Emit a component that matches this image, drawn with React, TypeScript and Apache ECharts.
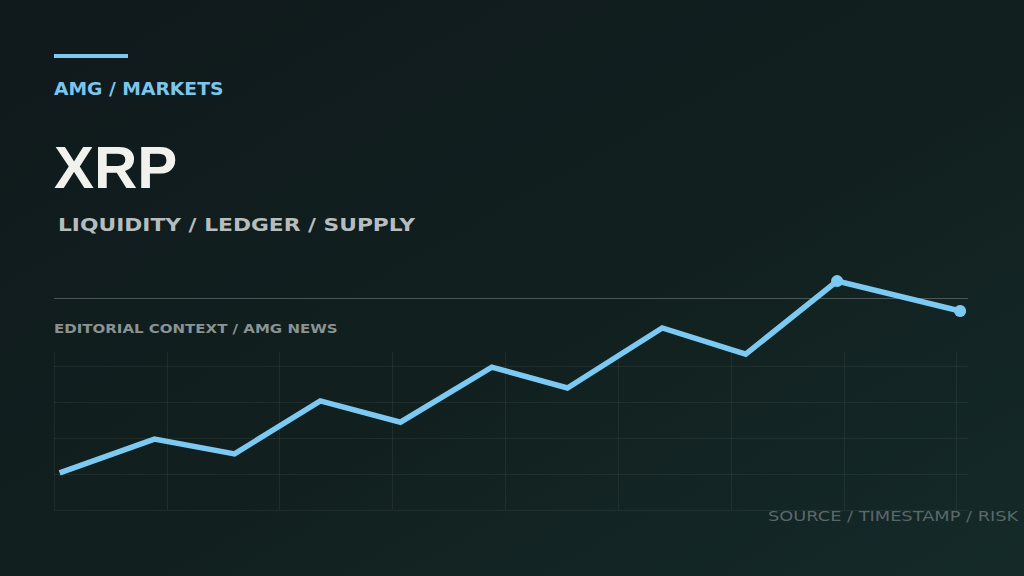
import { useEffect, useRef } from 'react';
import * as echarts from 'echarts';

// ─── Data ─────────────────────────────────────────────────────────────────────

// session index (x) and XRP index level (y)
const sessions = [0.5, 8.9, 16.0, 23.6, 30.7, 38.8, 45.5, 53.9, 61.3, 69.4, 80.3];
const xrpIndex = [10.3, 19.7, 15.6, 30.3, 24.4, 39.7, 33.9, 50.6, 43.3, 63.6, 55.3];
// points that carry a marker dot
const markedPoints = [9, 10];

const kicker = 'AMG / MARKETS';
const headline = 'XRP';
const tagline = 'LIQUIDITY / LEDGER / SUPPLY';
const context = 'EDITORIAL CONTEXT / AMG NEWS';
const footer = 'SOURCE / TIMESTAMP / RISK';

// ─── Option builder ───────────────────────────────────────────────────────────

const LINE_BLUE = '#7cc9f2';
const GRID_LINE = 'rgba(255,255,255,0.06)';
const LABEL_FONT = '"DejaVu Sans", sans-serif';

function buildOption(): echarts.EChartsOption {
  const points = sessions.map((x, i) => {
    const marked = markedPoints.includes(i);
    return {
      value: [x, xrpIndex[i]],
      symbol: marked ? 'circle' : 'none',
      symbolSize: marked ? 12 : 0,
    };
  });

  return {
    animation: false,
    backgroundColor: {
      type: 'linear',
      x: 0, y: 0, x2: 1, y2: 1,
      colorStops: [
        { offset: 0, color: '#10191c' },
        { offset: 0.55, color: '#11201f' },
        { offset: 1, color: '#142a29' },
      ],
    },
    grid: { left: 54, right: 56, top: 352, bottom: 66 },
    xAxis: {
      type: 'value',
      min: 0,
      max: 81,
      interval: 10,
      axisLine: { show: false },
      axisTick: { show: false },
      axisLabel: { show: false },
      splitLine: { show: true, showMaxLine: false, lineStyle: { color: GRID_LINE, width: 1 } },
    },
    yAxis: {
      type: 'value',
      min: 0,
      max: 43.9,
      interval: 10,
      axisLine: { show: false },
      axisTick: { show: false },
      axisLabel: { show: false },
      splitLine: { show: true, showMaxLine: false, lineStyle: { color: GRID_LINE, width: 1 } },
    },
    series: [
      {
        type: 'line',
        data: points,
        clip: false,
        z: 5,
        lineStyle: { color: LINE_BLUE, width: 5.5, join: 'miter' },
        itemStyle: { color: LINE_BLUE },
      },
    ],
    graphic: [
      // accent bar
      { type: 'rect', shape: { x: 54, y: 54, width: 74, height: 4 }, style: { fill: LINE_BLUE } },
      {
        type: 'text', x: 54, y: 88.5, scaleX: 1.04,
        style: {
          text: kicker, fill: '#7cc6ee', font: `bold 18px ${LABEL_FONT}`,
          textVerticalAlign: 'middle',
        },
      },
      {
        type: 'text', x: 54, y: 167,
        style: {
          text: headline, fill: '#f1f2ee', font: 'bold 60px "Liberation Sans", Arial, sans-serif',
          textVerticalAlign: 'middle',
        },
      },
      {
        type: 'text', x: 58, y: 224.5, scaleX: 1.21,
        style: {
          text: tagline, fill: '#b7bdbc', font: `bold 18px ${LABEL_FONT}`,
          textVerticalAlign: 'middle',
        },
      },
      // separator rule
      {
        type: 'line', z: 1, shape: { x1: 54, y1: 298.5, x2: 968, y2: 298.5 },
        style: { stroke: '#4a5657', lineWidth: 1.2 },
      },
      {
        type: 'text', x: 54, y: 328, scaleX: 1.155,
        style: {
          text: context, fill: '#8a9393', font: `bold 13px ${LABEL_FONT}`,
          textVerticalAlign: 'middle',
        },
      },
      {
        type: 'text', x: 768, y: 516, scaleX: 1.27,
        style: {
          text: footer, fill: '#5b6869', font: `14px ${LABEL_FONT}`,
          textVerticalAlign: 'middle',
        },
      },
    ],
  };
}

// ─── App ──────────────────────────────────────────────────────────────────────

export default function App() {
  const containerRef = useRef<HTMLDivElement>(null);

  useEffect(() => {
    if (!containerRef.current) return;
    const chart = echarts.init(containerRef.current, null, { renderer: 'svg' });
    chart.setOption(buildOption());
    return () => chart.dispose();
  }, []);

  return (
    <div
      ref={containerRef}
      style={{ position: 'absolute', left: 0, top: 0, width: 1024, height: 576 }}
    />
  );
}
